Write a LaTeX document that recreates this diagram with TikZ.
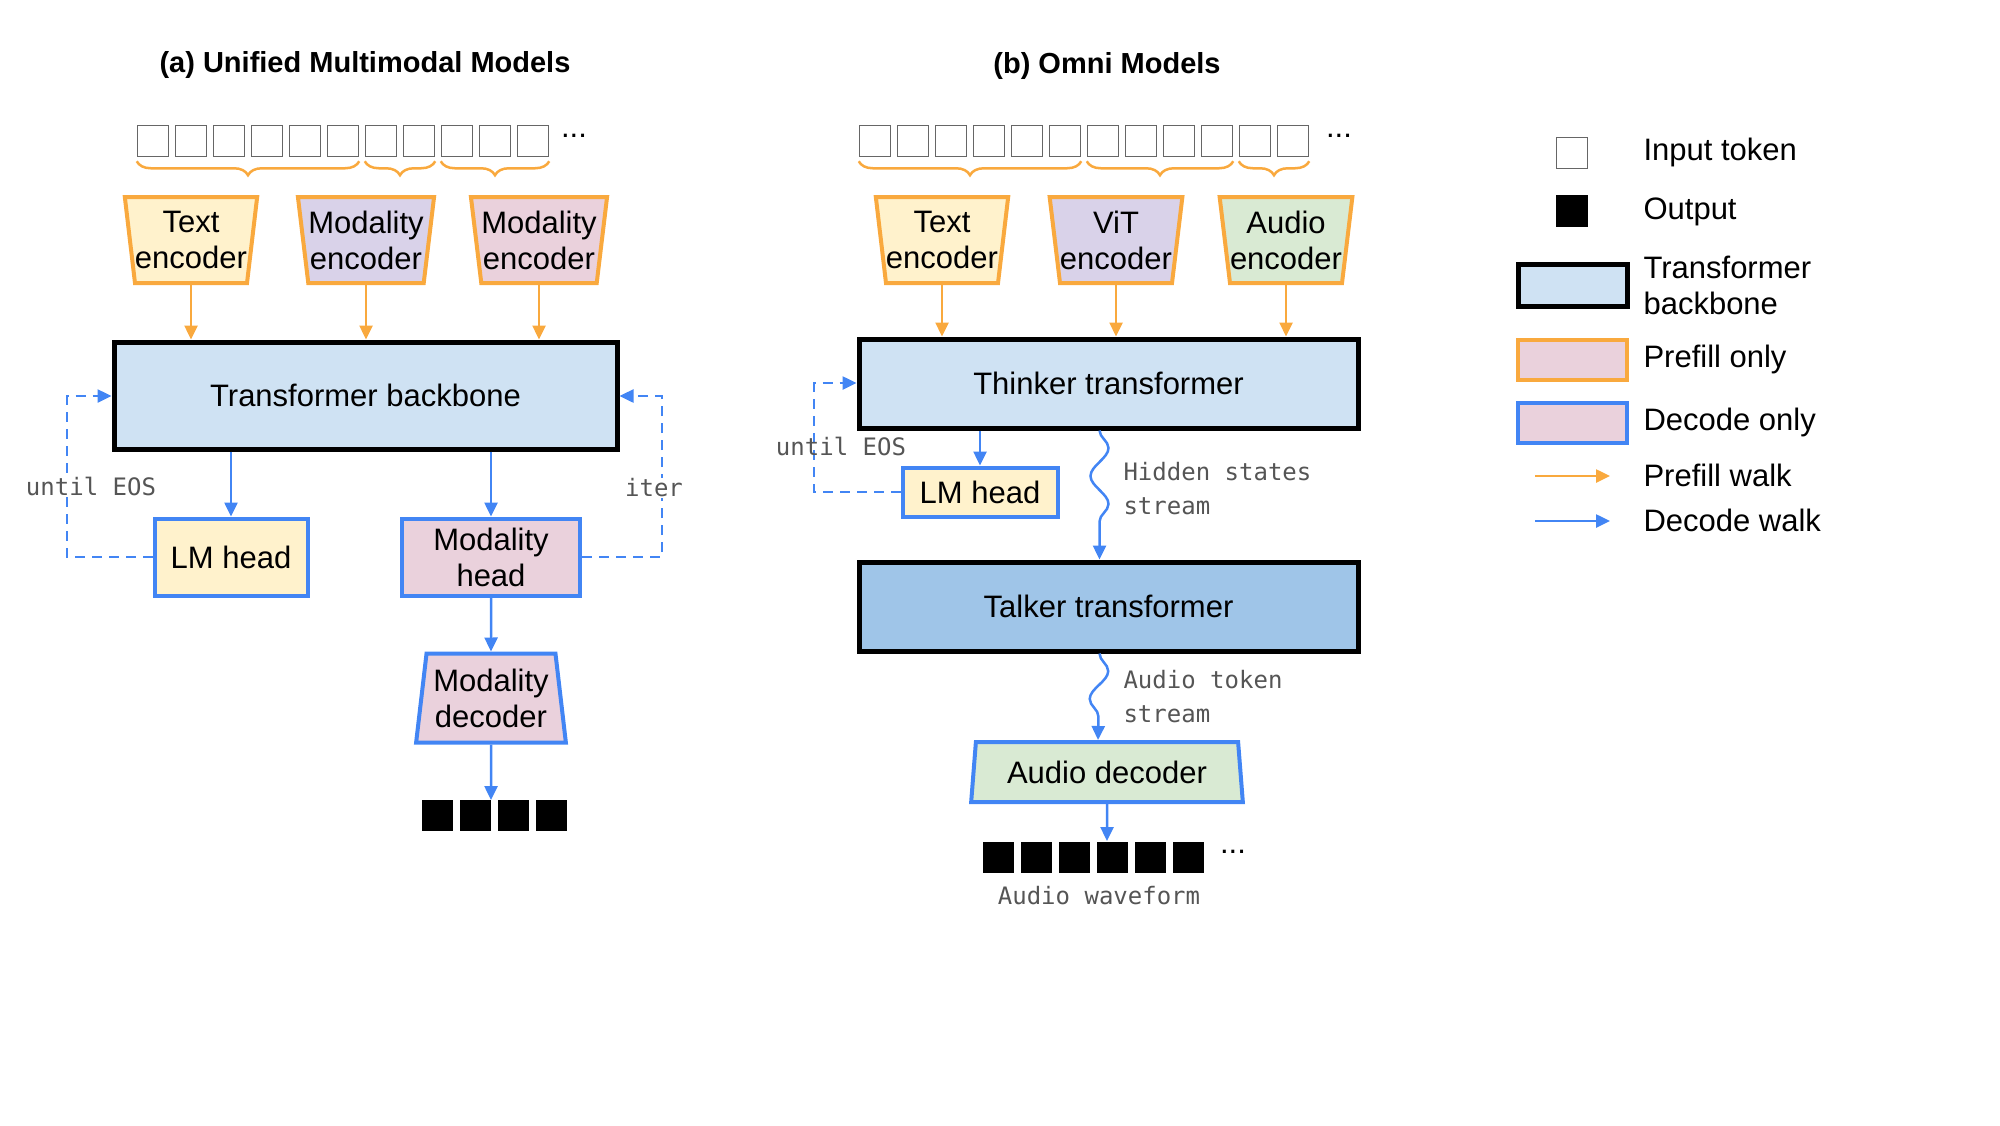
\documentclass[tikz,border=0pt]{standalone}
\usepackage{fontspec}
\setmainfont{Liberation Sans}
\setmonofont{DejaVu Sans Mono}
\usetikzlibrary{shapes.geometric,arrows.meta,decorations.pathreplacing,decorations.pathmorphing}
\definecolor{cor}{HTML}{F9A93E}
\definecolor{cbl}{HTML}{4285F4}
\definecolor{fyel}{HTML}{FFF2CC}
\definecolor{fpur}{HTML}{D9D2E9}
\definecolor{fpink}{HTML}{EAD1DC}
\definecolor{fblue}{HTML}{CFE2F3}
\definecolor{fgreen}{HTML}{D9EAD3}
\definecolor{ftalk}{HTML}{9FC5E8}
\definecolor{cgray}{HTML}{555555}
\tikzset{
 big/.style={font=\fontsize{31}{36}\selectfont},
 mono/.style={font=\ttfamily\fontsize{24}{34}\selectfont, text=cgray, align=left},
 ttl/.style={font=\bfseries\fontsize{29}{34}\selectfont},
 tok/.style={draw=gray!80!black, line width=1.5, minimum size=31, inner sep=0},
 otok/.style={fill=black, draw=black, minimum size=30, inner sep=0},
 enc/.style={trapezium, shape border rotate=180, trapezium left angle=80, trapezium right angle=80,
   trapezium stretches=true, minimum width=124, minimum height=86, draw=cor, line width=4, big, align=center, inner sep=0},
 dec/.style={trapezium, trapezium left angle=81, trapezium right angle=81,
   trapezium stretches=true, draw=cbl, line width=4, big, align=center, inner sep=0},
 tb/.style={draw=black, line width=5, fill=fblue, big},
 bbox/.style={draw=cbl, line width=4, big, align=center, inner sep=0},
 oa/.style={draw=cor, line width=2.5, -{Triangle[length=14,width=13]}},
 ba/.style={draw=cbl, line width=2.5, -{Triangle[length=14,width=13]}},
 da/.style={draw=cbl, line width=2.5, dash pattern=on 10 off 7, -{Triangle[length=14,width=13]}},
 br/.style={draw=cor, line width=2.5, decorate, decoration={brace, mirror, amplitude=14, aspect=0.5}},
 snk/.style={draw=cbl, line width=2.5, -{Triangle[length=14,width=13]}, decorate,
   decoration={snake, amplitude=9, segment length=56, post length=14}},
}
\begin{document}
\begin{tikzpicture}[x=1pt,y=-1pt]
\useasboundingbox (0,0) rectangle (2000,1125);
% ---------- (a)
\node[ttl] (ta) at (365,65) {(a) Unified Multimodal Models};
\foreach \i in {1,...,11}{ \node[tok] (a\i) at ({137+16+(\i-1)*38},141) {}; }
\node[big] (adots) at (574,136) {...};
\draw[br] ([yshift=-4]a1.south west) -- ([yshift=-4]a6.south east);
\draw[br] ([yshift=-4]a7.south west) -- ([yshift=-4]a8.south east);
\draw[br] ([yshift=-4]a9.south west) -- ([yshift=-4]a11.south east);
\node[enc, fill=fyel, minimum width=124] (te) at (191,240) {Text\\encoder};
\node[enc, fill=fpur] (me1) at (366,240) {Modality\\encoder};
\node[enc, fill=fpink] (me2) at (539,240) {Modality\\encoder};
\node[tb, minimum width=503, minimum height=107] (bb) at (365.5,395.5) {Transformer backbone};
\draw[oa] (te.south) -- (te.south |- bb.north);
\draw[oa] (me1.south) -- (me1.south |- bb.north);
\draw[oa] (me2.south) -- (me2.south |- bb.north);
\node[bbox, fill=fyel, minimum width=153, minimum height=77] (lm) at (231,557) {LM head};
\node[bbox, fill=fpink, minimum width=178, minimum height=77] (mh) at (491,557) {Modality\\head};
\draw[ba] (lm.north |- bb.south) -- (lm.north);
\draw[ba] (mh.north |- bb.south) -- (mh.north);
\node[dec, fill=fpink, minimum width=150, minimum height=89] (md) at (491,698) {Modality\\decoder};
\draw[ba] (mh.south) -- (md.north);
\foreach \i in {1,...,4}{ \node[otok] (o\i) at ({437+(\i-1)*38},815) {}; }
\coordinate (oc) at (491,800);
\draw[ba] (md.south) -- (oc);
\coordinate (l1) at (67,557); \coordinate (l2) at (67,396);
\draw[da] (lm.west) -- (l1) -- (l2) -- (l2 -| bb.west);
\coordinate (r1) at (662,557); \coordinate (r2) at (662,396);
\draw[da] (mh.east) -- (r1) -- (r2) -- (r2 -| bb.east);
\node[mono, fill=white, inner sep=1] (ue1) at (91,486) {until EOS};
\node[mono, fill=white, inner sep=1] (it) at (654,488) {iter};
% ---------- (b)
\node[ttl] (tbt) at (1107,66) {(b) Omni Models};
\foreach \i in {1,...,12}{ \node[tok] (b\i) at ({859+16+(\i-1)*38},141) {}; }
\node[big] (bdots) at (1339,136) {...};
\draw[br] ([yshift=-4]b1.south west) -- ([yshift=-4]b6.south east);
\draw[br] ([yshift=-4]b7.south west) -- ([yshift=-4]b10.south east);
\draw[br] ([yshift=-4]b11.south west) -- ([yshift=-4]b12.south east);
\node[enc, fill=fyel] (bte) at (942,240) {Text\\encoder};
\node[enc, fill=fpur] (vit) at (1116,240) {ViT\\encoder};
\node[enc, fill=fgreen] (aue) at (1286,240) {Audio\\encoder};
\node[tb, minimum width=499, minimum height=89] (th) at (1108.5,383.5) {Thinker transformer};
\draw[oa] (bte.south) -- (bte.south |- th.north);
\draw[oa] (vit.south) -- (vit.south |- th.north);
\draw[oa] (aue.south) -- (aue.south |- th.north);
\node[bbox, fill=fyel, minimum width=155, minimum height=49] (blm) at (980,492) {LM head};
\draw[ba] (blm.north |- th.south) -- (blm.north);
\coordinate (m1) at (814,492); \coordinate (m2) at (814,383);
\draw[da] (blm.west) -- (m1) -- (m2) -- (m2 -| th.west);
\node[mono] (ue2) at (841,446) {until EOS};
\node[tb, fill=ftalk, minimum width=499, minimum height=89] (tk) at (1108.5,606.5) {Talker transformer};
\draw[snk] ([xshift=-9]th.south) -- ([xshift=-9]tk.north);
\node[mono, anchor=west] (hs) at (1120,489) {Hidden states\\stream};
\node[dec, fill=fgreen, minimum width=272, minimum height=60] (ad) at (1107,772) {Audio decoder};
\draw[snk] ([xshift=-9]tk.south) -- ([xshift=-9]ad.north);
\node[mono, anchor=west] (ats) at (1120,697) {Audio token\\stream};
\foreach \i in {1,...,6}{ \node[otok] (p\i) at ({998+(\i-1)*38},857) {}; }
\node[big] (pdots) at (1233,852) {...};
\coordinate (pc) at (1107,841);
\draw[ba] (ad.south) -- (pc);
\node[mono] (aw) at (1099,896) {Audio waveform};
% ---------- legend
\node[tok, minimum size=31] (li) at (1572,153) {};
\node[big, anchor=west] (lit) at (1640,152) {Input token};
\node[otok, minimum size=31] (lo) at (1572,211) {};
\node[big, anchor=west] (lot) at (1640,212) {Output};
\node[draw=black, line width=5, fill=fblue, minimum width=109, minimum height=42, inner sep=0] (lt) at (1572.5,285) {};
\node[big, anchor=west, align=left] (ltt) at (1640,285) {Transformer\\backbone};
\node[draw=cor, line width=4, fill=fpink, minimum width=109, minimum height=40, inner sep=0] (lp) at (1572.5,360) {};
\node[big, anchor=west] (lpt) at (1640,359) {Prefill only};
\node[draw=cbl, line width=4, fill=fpink, minimum width=109, minimum height=40, inner sep=0] (ld) at (1572.5,423) {};
\node[big, anchor=west] (ldt) at (1640,422) {Decode only};
\coordinate (pa1) at (1535,476); \coordinate (pa2) at (1610,476);
\draw[oa] (pa1) -- (pa2);
\node[big, anchor=west] (pwt) at (1640,475) {Prefill walk};
\coordinate (da1) at (1535,521); \coordinate (da2) at (1610,521);
\draw[ba] (da1) -- (da2);
\node[big, anchor=west] (dwt) at (1640,520) {Decode walk};
\end{tikzpicture}
\end{document}
